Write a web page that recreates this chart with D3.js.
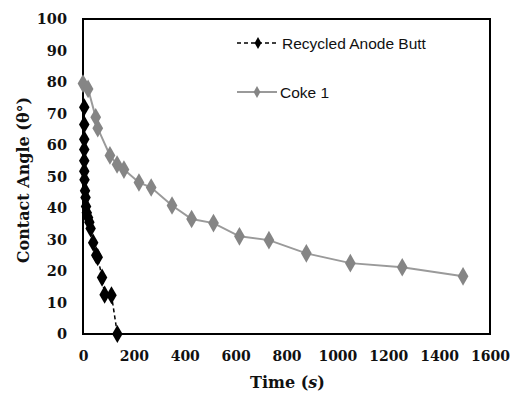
<!DOCTYPE html>
<html>
<head>
<meta charset="utf-8">
<script src="https://cdn.jsdelivr.net/npm/d3@7"></script>
<style>
  html, body { margin: 0; padding: 0; background: #fff; }
  svg { display: block; }
</style>
</head>
<body>
<svg id="chart" width="511" height="394"></svg>
<script>
// ---- data ----
const anodeTime  = [5, 5, 5, 5, 5, 5, 6, 8, 10, 12, 15, 20, 25, 30, 40, 52, 58, 75, 85, 112, 135];
const anodeAngle = [72, 66.5, 61.8, 58.6, 55, 51.7, 49, 45.5, 43.3, 40.5, 38.5, 37, 35.5, 33.5, 29, 25, 24.4, 17.9, 12.5, 12.3, 0];
const cokeTime   = [0, 20, 50, 58, 106, 134, 161, 220, 268, 350, 427, 513, 615, 731, 878, 1051, 1255, 1494];
const cokeAngle  = [79.5, 77.8, 68.8, 65.3, 56.7, 53.8, 52.2, 48.1, 46.5, 40.8, 36.5, 35.2, 31, 29.8, 25.6, 22.5, 21.2, 18.3];
const xTicks = [0, 200, 400, 600, 800, 1000, 1200, 1400, 1600];
const yTicks = [0, 10, 20, 30, 40, 50, 60, 70, 80, 90, 100];
const seriesNames = ["Recycled Anode Butt", "Coke 1"];

const svg = d3.select("#chart");
const L = 83, R = 490, T = 19, B = 334;
const x = d3.scaleLinear().domain([0, 1600]).range([L, R]);
const y = d3.scaleLinear().domain([0, 100]).range([B, T]);

const serif = "'DejaVu Serif', serif";

// axes (labels only, no tick marks)
const yAxis = svg.append("g").attr("transform", `translate(${L},0)`)
  .call(d3.axisLeft(y).tickValues(yTicks).tickFormat(d3.format("d")).tickSize(0).tickPadding(16));
yAxis.select(".domain").remove();
yAxis.selectAll("text").attr("font-family", serif).attr("font-weight", "bold")
  .attr("font-size", 14.5).attr("fill", "#111");

const xAxis = svg.append("g").attr("transform", `translate(0,${B})`)
  .call(d3.axisBottom(x).tickValues(xTicks).tickFormat(d3.format("d")).tickSize(0).tickPadding(17));
xAxis.select(".domain").remove();
xAxis.selectAll("text").attr("font-family", serif).attr("font-weight", "bold")
  .attr("font-size", 14).attr("fill", "#111");

// plot border
svg.append("rect").attr("x", L).attr("y", T).attr("width", R - L).attr("height", B - T)
  .attr("fill", "none").attr("stroke", "#000").attr("stroke-width", 2);

// titles
const xt = svg.append("text").attr("x", (L + R) / 2 + 1).attr("y", 388)
  .attr("text-anchor", "middle").attr("font-family", serif).attr("font-weight", "bold")
  .attr("font-size", 16).attr("fill", "#111");
xt.append("tspan").text("Time (");
xt.append("tspan").attr("font-style", "italic").text("s");
xt.append("tspan").text(")");

svg.append("text").attr("transform", `translate(29,180) rotate(-90)`)
  .attr("text-anchor", "middle").attr("font-family", serif).attr("font-weight", "bold")
  .attr("font-size", 16).attr("fill", "#111").text("Contact Angle (θ°)");

const diamond = d3.symbol().type(d3.symbolDiamond);
const line = d3.line().x(d => x(d[0])).y(d => y(d[1]));

// Coke 1
const coke = cokeTime.map((t, i) => [t, cokeAngle[i]]);
svg.append("path").attr("d", line(coke)).attr("fill", "none")
  .attr("stroke", "#9a9a9a").attr("stroke-width", 2);
svg.selectAll(".cm").data(coke).enter().append("path")
  .attr("transform", d => `translate(${x(d[0])},${y(d[1])})`)
  .attr("d", diamond.size(100)).attr("fill", "#858585");

// Recycled Anode Butt
const anode = anodeTime.map((t, i) => [t, anodeAngle[i]]);
svg.append("path").attr("d", line(anode)).attr("fill", "none")
  .attr("stroke", "#000").attr("stroke-width", 1.5).attr("stroke-dasharray", "4,3");
svg.selectAll(".am").data(anode).enter().append("path")
  .attr("transform", d => `translate(${x(d[0])},${y(d[1])})`)
  .attr("d", diamond.size(95)).attr("fill", "#000");

// legend
const sans = "'Liberation Sans', Arial, sans-serif";
const lg = svg.append("g");
lg.append("line").attr("x1", 237).attr("x2", 279).attr("y1", 43).attr("y2", 43)
  .attr("stroke", "#000").attr("stroke-width", 1.5).attr("stroke-dasharray", "4,3");
lg.append("path").attr("transform", "translate(258,43)").attr("d", diamond.size(40)).attr("fill", "#000");
lg.append("text").attr("x", 282).attr("y", 48.5).attr("font-family", sans).attr("font-size", 15.5)
  .attr("fill", "#111").text(seriesNames[0]);
lg.append("line").attr("x1", 237).attr("x2", 277).attr("y1", 92).attr("y2", 92)
  .attr("stroke", "#9a9a9a").attr("stroke-width", 2);
lg.append("path").attr("transform", "translate(257,92)").attr("d", diamond.size(40)).attr("fill", "#858585");
lg.append("text").attr("x", 280).attr("y", 97.5).attr("font-family", sans).attr("font-size", 15.5)
  .attr("fill", "#111").text(seriesNames[1]);
</script>
</body>
</html>
